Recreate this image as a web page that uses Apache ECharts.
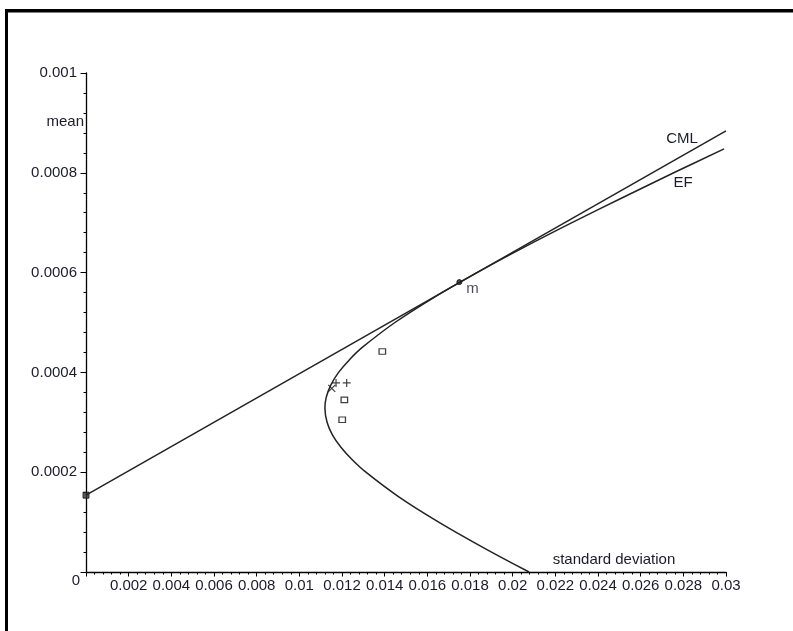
<!DOCTYPE html>
<html>
<head>
<meta charset="utf-8">
<title>Efficient frontier and capital market line</title>
<script src="https://cdn.jsdelivr.net/npm/echarts@6/dist/echarts.min.js"></script>
<style>
  html, body { margin: 0; padding: 0; background: #ffffff; }
  #chart { width: 793px; height: 631px; }
</style>
</head>
<body>
<div id="chart"></div>
<script>
// Efficient frontier (standard deviation vs. mean return), ordered by mean
const efMean  = [0, 0.00005, 0.0001, 0.00015, 0.0002, 0.000225, 0.00025, 0.000275, 0.0003, 0.000328,
                 0.00035, 0.000375, 0.0004, 0.000425, 0.00045, 0.0005, 0.00055, 0.0006, 0.00065,
                 0.0007, 0.00075, 0.0008, 0.000848];
const efSigma = [0.02077, 0.01858, 0.01653, 0.01468, 0.01312, 0.01248, 0.01195, 0.01155, 0.01130, 0.01120,
                 0.01126, 0.01148, 0.01184, 0.01234, 0.01295, 0.01448, 0.01630, 0.01833, 0.02050,
                 0.02278, 0.02514, 0.02755, 0.02991];

// Capital market line: from the risk-free rate through the market portfolio
const cmlSigma = [0, 0.03];
const cmlMean  = [0.000154, 0.000884];

// Individual assets
const squareSigma = [0.01389, 0.01211, 0.01201];
const squareMean  = [0.000442, 0.000345, 0.000305];
const plusSigma   = [0.01222, 0.01172];
const plusMean    = [0.000379, 0.000379];
const crossSigma  = [0.01152];
const crossMean   = [0.000368];

// Market portfolio and risk-free asset
const marketSigma = [0.0175];
const marketMean  = [0.000581];
const rfSigma = [0];
const rfMean  = [0.000154];

// Axis ticks
const xTickStep = 0.002;
const yTickStep = 0.0002;

const zip = (xs, ys) => xs.map((x, i) => [x, ys[i]]);

const INK = '#1b1b2b';
const FONT = '"Liberation Sans", Arial, sans-serif';
const FS = 15;
const fmt = v => (v === 0 ? '' : String(parseFloat(v.toPrecision(6))));

const chart = echarts.init(document.getElementById('chart'), null, { renderer: 'canvas' });

chart.setOption({
  backgroundColor: '#ffffff',
  animation: false,
  grid: { left: 86, top: 73, right: 67, bottom: 59, containLabel: false },
  xAxis: {
    type: 'value',
    min: 0, max: 0.03, interval: xTickStep,
    axisLine: { show: true, lineStyle: { color: '#000', width: 1.3 } },
    axisTick: { show: true, length: 4.5, lineStyle: { color: '#000', width: 1 } },
    minorTick: { show: true, splitNumber: 5, length: 2.5, lineStyle: { color: '#000', width: 1 } },
    splitLine: { show: false },
    axisLabel: { formatter: fmt, color: INK, fontFamily: FONT, fontSize: FS, margin: 6 }
  },
  yAxis: {
    type: 'value',
    min: 0, max: 0.001, interval: yTickStep,
    axisLine: { show: true, lineStyle: { color: '#000', width: 1.3 } },
    axisTick: { show: true, length: 5.5, lineStyle: { color: '#000', width: 1 } },
    minorTick: { show: true, splitNumber: 5, length: 2.5, lineStyle: { color: '#000', width: 1 } },
    splitLine: { show: false },
    axisLabel: { formatter: fmt, color: INK, fontFamily: FONT, fontSize: FS, margin: 9 }
  },
  series: [
    {
      name: 'EF', type: 'line', data: zip(efSigma, efMean),
      smooth: 0.4, showSymbol: false, clip: false,
      lineStyle: { color: '#222', width: 1.5 }
    },
    {
      name: 'CML', type: 'line', data: zip(cmlSigma, cmlMean),
      showSymbol: false, clip: false,
      lineStyle: { color: '#222', width: 1.5 }
    },
    {
      name: 'assets-square', type: 'scatter', data: zip(squareSigma, squareMean),
      symbol: 'rect', symbolSize: [6.5, 5.5],
      itemStyle: { color: '#fff', borderColor: '#111', borderWidth: 1.2 }
    },
    {
      name: 'assets-plus', type: 'scatter', data: zip(plusSigma, plusMean),
      symbol: 'path://M0,5 L10,5 M5,0 L5,10', symbolSize: 8,
      itemStyle: { color: 'none', borderColor: '#111', borderWidth: 1.2 }
    },
    {
      name: 'assets-cross', type: 'scatter', data: zip(crossSigma, crossMean),
      symbol: 'path://M0,0 L10,10 M10,0 L0,10', symbolSize: 7,
      itemStyle: { color: 'none', borderColor: '#111', borderWidth: 1.2 }
    },
    {
      name: 'market', type: 'scatter', data: zip(marketSigma, marketMean),
      symbol: 'circle', symbolSize: 5,
      itemStyle: { color: '#222', borderColor: '#000', borderWidth: 1 },
      label: {
        show: true, formatter: 'm', position: 'right', distance: 4, offset: [0, 7],
        color: INK, fontFamily: FONT, fontSize: FS
      }
    },
    {
      name: 'riskfree', type: 'scatter', data: zip(rfSigma, rfMean),
      symbol: 'rect', symbolSize: 6, clip: false,
      itemStyle: { color: '#333', borderColor: '#111', borderWidth: 1 }
    }
  ],
  graphic: [
    // page frame
    { type: 'rect', shape: { x: 5, y: 9, width: 788, height: 3.5 }, style: { fill: '#000' } },
    { type: 'rect', shape: { x: 5, y: 9, width: 3, height: 622 }, style: { fill: '#000' } },
    // shared origin label and axis titles
    { type: 'text', x: 76, y: 581, style: { text: '0', fill: INK, font: FS + 'px ' + FONT, align: 'center', verticalAlign: 'middle' } },
    { type: 'text', x: 84, y: 122, style: { text: 'mean', fill: INK, font: FS + 'px ' + FONT, align: 'right', verticalAlign: 'middle' } },
    { type: 'text', x: 614, y: 560, style: { text: 'standard deviation', fill: INK, font: FS + 'px ' + FONT, align: 'center', verticalAlign: 'middle' } },
    // curve names
    { type: 'text', x: 682, y: 139, style: { text: 'CML', fill: INK, font: FS + 'px ' + FONT, align: 'center', verticalAlign: 'middle' } },
    { type: 'text', x: 683, y: 183, style: { text: 'EF', fill: INK, font: FS + 'px ' + FONT, align: 'center', verticalAlign: 'middle' } }
  ]
});
</script>
</body>
</html>
